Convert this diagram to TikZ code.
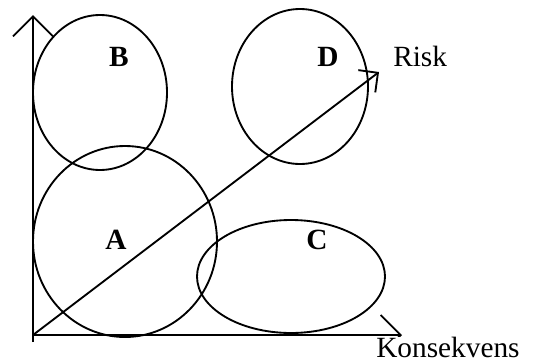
\documentclass[tikz,border=0pt]{standalone}
\usepackage{fontspec}
\setmainfont{Liberation Serif}
\usetikzlibrary{
  arrows.meta,
  positioning,
  shapes.geometric
}
\tikzset{
  zone/.style={draw,ellipse,line width=1.4pt,inner sep=0pt},
  zonelabel/.style={font=\fontsize{22}{26}\selectfont\bfseries,inner sep=0pt},
  axislabel/.style={font=\fontsize{22}{26}\selectfont,inner sep=0pt},
  axis/.style={-{Straight Barb[length=15pt,width=30pt,line join=miter]},line width=1.4pt},
  riskarrow/.style={-{Straight Barb[length=10.5pt,width=21pt,line join=miter]},line width=1.4pt}
}

\begin{document}
\begin{tikzpicture}[x=0.75pt,y=0.75pt]
\useasboundingbox (0,0) rectangle (543,362);
\coordinate (o) at (33,27);
\coordinate (ybot) at (33,20);
\coordinate (ytop) at (33,347);
\coordinate (xend) at (402,27);
\coordinate (rend) at (379,290);
\node[zone, minimum width=138pt, minimum height=143.25pt] (zoneA) at (125,120.5) {};
\node[zone, minimum width=100.5pt, minimum height=116.25pt] (zoneB) at (100,269.5) {};
\node[zone, minimum width=141pt, minimum height=84.75pt] (zoneC) at (291,85.5) {};
\node[zone, minimum width=102pt, minimum height=116.25pt] (zoneD) at (300,275.5) {};
\node[zonelabel] (labA) at (116,122) {A};
\node[zonelabel] (labB) at (119,305) {B};
\node[zonelabel] (labC) at (317,122) {C};
\node[zonelabel] (labD) at (328,305) {D};
\draw[axis] (ybot) -- (ytop);
\draw[axis] (o) -- (xend);
\draw[riskarrow] (o) -- (rend);
\node[axislabel, anchor=base west] (risk) at (393,296) {Risk};
\node[axislabel, anchor=base west, fill=white] (kons) at (376,5) {Konsekvens};
\end{tikzpicture}
\end{document}
